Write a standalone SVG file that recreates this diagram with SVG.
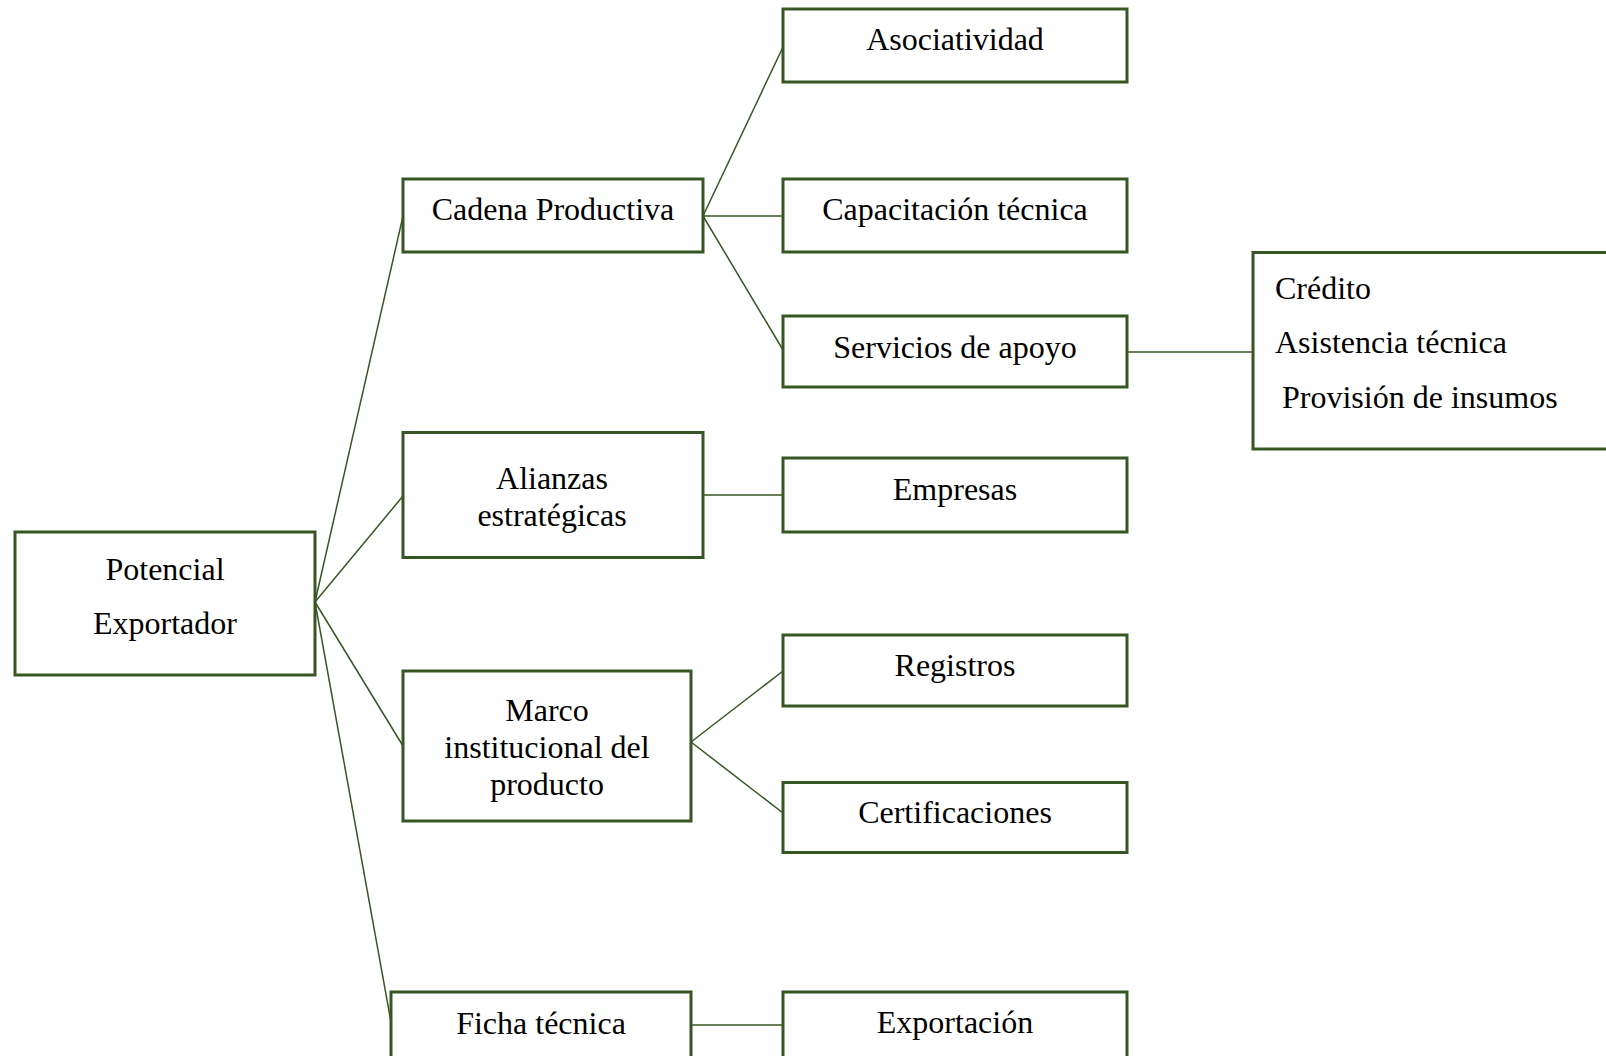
<svg xmlns="http://www.w3.org/2000/svg" width="1606" height="1056" viewBox="0 0 1606 1056">
<style>
.box{fill:#ffffff;stroke:#375623;stroke-width:3}
.con{stroke:#375623;stroke-width:1.5;fill:none}
text{font-family:"Liberation Serif","Times New Roman",serif;font-size:32px;fill:#000000}
.c{text-anchor:middle}
</style>
<rect x="0" y="0" width="1606" height="1056" fill="#ffffff"/>
<g id="connectors">
<line class="con" x1="315" y1="602" x2="403" y2="216"/>
<line class="con" x1="315" y1="602" x2="403" y2="496"/>
<line class="con" x1="315" y1="602" x2="403" y2="746"/>
<line class="con" x1="315" y1="602" x2="391" y2="1022"/>
<line class="con" x1="703" y1="216" x2="783" y2="47"/>
<line class="con" x1="703" y1="216" x2="783" y2="216"/>
<line class="con" x1="703" y1="216" x2="783" y2="350"/>
<line class="con" x1="703" y1="495" x2="783" y2="495"/>
<line class="con" x1="691" y1="742" x2="783" y2="671"/>
<line class="con" x1="691" y1="742" x2="783" y2="813"/>
<line class="con" x1="691" y1="1025" x2="783" y2="1025"/>
<line class="con" x1="1127" y1="352" x2="1253" y2="352"/>
</g>
<g id="potencial">
<rect class="box" x="15" y="532" width="300" height="143"/>
<text class="c" x="165" y="580">Potencial</text>
<text class="c" x="165" y="634">Exportador</text>
</g>
<g id="cadena">
<rect class="box" x="403" y="179" width="300" height="73"/>
<text class="c" x="553" y="220">Cadena Productiva</text>
</g>
<g id="alianzas">
<rect class="box" x="403" y="432.5" width="300" height="125"/>
<text class="c" x="552" y="489">Alianzas</text>
<text class="c" x="552" y="526">estratégicas</text>
</g>
<g id="marco">
<rect class="box" x="403" y="671" width="288" height="150"/>
<text class="c" x="547" y="721">Marco</text>
<text class="c" x="547" y="758">institucional del</text>
<text class="c" x="547" y="795">producto</text>
</g>
<g id="ficha">
<rect class="box" x="391" y="992" width="300" height="80"/>
<text class="c" x="541" y="1034">Ficha técnica</text>
</g>
<g id="asociatividad">
<rect class="box" x="783" y="9" width="344" height="73"/>
<text class="c" x="955" y="50">Asociatividad</text>
</g>
<g id="capacitacion">
<rect class="box" x="783" y="179" width="344" height="73"/>
<text class="c" x="955" y="220">Capacitación técnica</text>
</g>
<g id="servicios">
<rect class="box" x="783" y="316" width="344" height="71"/>
<text class="c" x="955" y="358">Servicios de apoyo</text>
</g>
<g id="empresas">
<rect class="box" x="783" y="458" width="344" height="74"/>
<text class="c" x="955" y="500">Empresas</text>
</g>
<g id="registros">
<rect class="box" x="783" y="635" width="344" height="71"/>
<text class="c" x="955" y="676">Registros</text>
</g>
<g id="certificaciones">
<rect class="box" x="783" y="782.5" width="344" height="70"/>
<text class="c" x="955" y="823">Certificaciones</text>
</g>
<g id="exportacion">
<rect class="box" x="783" y="992" width="344" height="80"/>
<text class="c" x="955" y="1033">Exportación</text>
</g>
<g id="servicios-detalle">
<rect class="box" x="1253" y="252.5" width="370" height="196.5"/>
<text x="1275" y="299">Crédito</text>
<text x="1275" y="353">Asistencia técnica</text>
<text x="1282" y="408">Provisión de insumos</text>
</g>
</svg>
